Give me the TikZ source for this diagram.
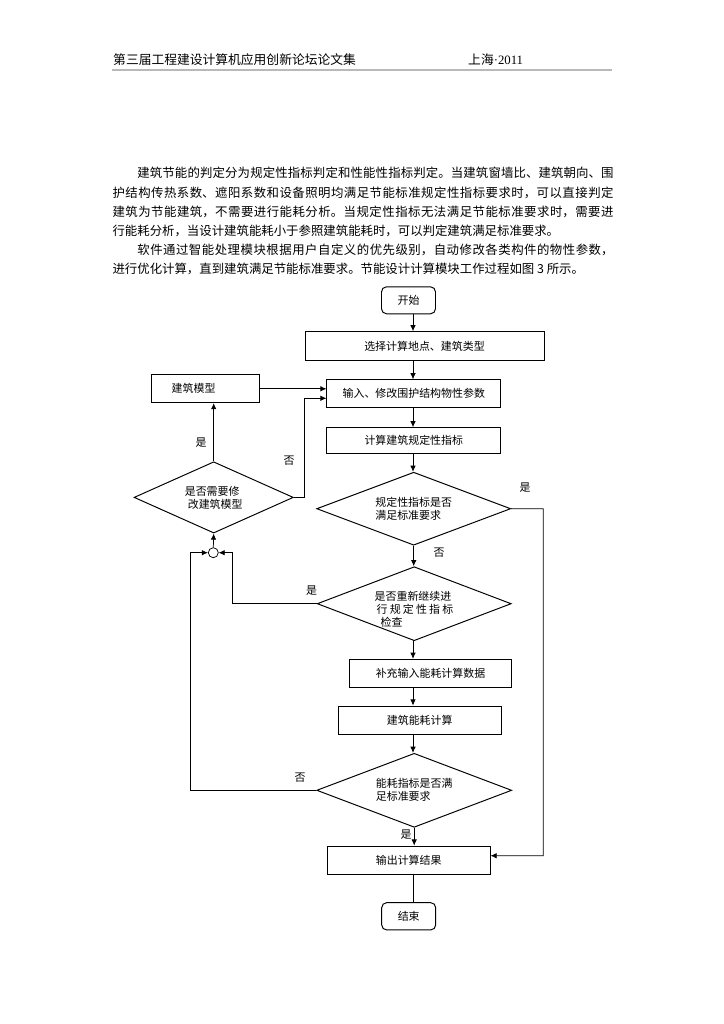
\documentclass[tikz,border=0pt]{standalone}
\usepackage{fontspec}
\setmainfont{Liberation Serif}
\newfontfamily\cjk{Noto Sans CJK SC}
\usetikzlibrary{shapes.geometric,arrows.meta,positioning}
\XeTeXlinebreaklocale "zh"
\XeTeXlinebreakskip=0pt plus 1pt
\newlength{\pxu}
\setlength{\pxu}{0.8222pt}

\begin{document}
\begin{tikzpicture}[x=\pxu,y=-\pxu,
    box/.style={draw,line width=0.8pt,minimum height=28\pxu,inner sep=0pt,font=\cjk\fontsize{9}{10.7}\selectfont},
    term/.style={box,rounded corners=5\pxu,minimum width=54\pxu,minimum height=27\pxu},
    decision/.style={draw,line width=0.8pt,diamond,aspect=2.65,inner sep=0pt,font=\cjk\fontsize{9}{10.7}\selectfont},
    lbl/.style={font=\cjk\fontsize{9}{10.7}\selectfont,inner sep=0pt},
    arr/.style={line width=0.6pt,-{Latex[length=5pt,width=4.5pt]}},
    line/.style={line width=0.6pt}]
    % Page and margins
    \path[fill=white,use as bounding box] (0,0) rectangle (724,1024);

    % Header
    \node[anchor=west,inner sep=0pt,font=\cjk\fontsize{10.5}{12}\selectfont] (hdrL) at (113,60) {第三届工程建设计算机应用创新论坛论文集};
    \node[anchor=west,inner sep=0pt,font=\fontsize{10.5}{12}\selectfont] (hdrR) at (468,60) {{\cjk 上海}·2011};
    \draw[gray!55,line width=1.6\pxu] (112,70) -- (612,70);

    % Body text
    \node[anchor=north west,inner sep=0pt,text width=501\pxu,align=justify,
          font=\cjk\fontsize{10.2}{15.8}\selectfont] (par1) at (112.3,167.1) {%
        \hspace*{2em}建筑节能的判定分为规定性指标判定和性能性指标判定。当建筑窗墙比、建筑朝向、围\linebreak%
        护结构传热系数、遮阳系数和设备照明均满足节能标准规定性指标要求时，可以直接判定\linebreak%
        建筑为节能建筑，不需要进行能耗分析。当规定性指标无法满足节能标准要求时，需要进\linebreak%
        行能耗分析，当设计建筑能耗小于参照建筑能耗时，可以判定建筑满足标准要求。};
    \node[anchor=north west,inner sep=0pt,text width=501\pxu,align=justify,
          font=\cjk\fontsize{10.2}{15.8}\selectfont] (par2) at (112.3,243.8) {%
        \hspace*{2em}软件通过智能处理模块根据用户自定义的优先级别，自动修改各类构件的物性参数，\linebreak%
        进行优化计算，直到建筑满足节能标准要求。节能设计计算模块工作过程如图 3 所示。};

    % Coordinates for the main axis and bends
    \coordinate (axis) at (413,0);
    \coordinate (cR) at (543.3,855.7);
    \coordinate (jR) at (232.7,552.7);
    \coordinate (jL) at (190.3,552.7);
    \coordinate (jT) at (304.3,398.3);

    % Flowchart nodes
    \node[term] (start) at (408.5,300.3) {开始};
    \node[box,minimum width=239\pxu,minimum height=29.3\pxu] (select) at (424.5,346.3) {选择计算地点、建筑类型};
    \node[box,minimum width=173.7\pxu] (input) at (413.8,393.8) {输入、修改围护结构物性参数};
    \node[box,minimum width=173.7\pxu,minimum height=26.3\pxu] (rule) at (413.8,440.8) {计算建筑规定性指标};
    \node[decision,minimum width=194\pxu,minimum height=73\pxu,align=left] (check) at (413.7,508.7) {规定性指标是否\\满足标准要求};
    \node[box,text width=67.6\pxu,inner xsep=20\pxu,align=left,minimum height=27.7\pxu] (model) at (205.5,388.8) {建筑模型};
    \node[decision,minimum width=159.3\pxu,minimum height=71.3\pxu,align=left] (modify) at (213.7,497.4) {是否需要修\\\hspace*{3\pxu}改建筑模型};
    \node[draw,line width=0.6pt,circle,minimum size=10\pxu,inner sep=0pt] (junc) at (213.3,552.7) {};
    \node[decision,minimum width=194\pxu,minimum height=74\pxu] (again) at (414.2,603.7) {};
    \node[lbl,align=left] (againtxt) at (414,609.7) {是否重新继续进\\\hspace*{2\pxu}\makebox[63pt][s]{行\hfill 规\hfill 定\hfill 性\hfill 指\hfill 标}\\\hspace*{6\pxu}检查};
    \node[box,minimum width=162.7\pxu] (supp) at (430.5,673.3) {补充输入能耗计算数据};
    \node[box,minimum width=162.7\pxu] (calc) at (419.7,720) {建筑能耗计算};
    \node[decision,minimum width=195\pxu,minimum height=74\pxu,align=left] (energy) at (414.2,790.3) {能耗指标是否满\\足标准要求};
    \node[box,minimum width=162.7\pxu,minimum height=28.3\pxu] (out) at (408.7,860.2) {输出计算结果};
    \node[term,minimum height=27.3\pxu] (end) at (408.7,916.3) {结束};

    % Main chain
    \draw[arr] (start.south -| axis) -- (select.north -| axis);
    \draw[arr] (select.south -| axis) -- (input.north -| axis);
    \draw[arr] (input.south -| axis) -- (rule.north -| axis);
    \draw[arr] (rule.south -| axis) -- (check.north -| axis);
    \draw[arr] (check.south) -- (check.south |- again.north);
    \draw[arr] (again.south -| axis) -- (supp.north -| axis);
    \draw[arr] (supp.south -| axis) -- (calc.north -| axis);
    \draw[arr] (calc.south -| axis) -- (energy.north -| axis);
    \draw[arr] (energy.south) -- (energy.south |- out.north);
    \draw[line] (out.south -| axis) -- (end.north -| axis);

    % Side branches
    \draw[arr] (check.east) -| (cR) -- ([yshift=3.7pt]out.east);
    \draw[arr] (again.west) -| (jR) -- (junc.east);
    \draw[arr] (energy.west) -| (jL) -- (junc.west);
    \draw[arr] (junc.north) -- (modify.south);
    \draw[arr] (modify.north) -- (modify.north |- model.south);
    \draw[arr] (model.east) -- (model.east -| input.west);
    \draw[arr] (modify.east) -| (jT) -- (jT -| input.west);

    % Branch labels
    \node[lbl] (yes1) at (525,488) {是};
    \node[lbl] (no1) at (439,553) {否};
    \node[lbl] (yes2) at (311.7,591) {是};
    \node[lbl] (no3) at (300,777.7) {否};
    \node[lbl] (yes3) at (406,834.3) {是};
    \node[lbl] (yesM) at (201,442.7) {是};
    \node[lbl] (noM) at (289,461) {否};

\end{tikzpicture}
\end{document}
